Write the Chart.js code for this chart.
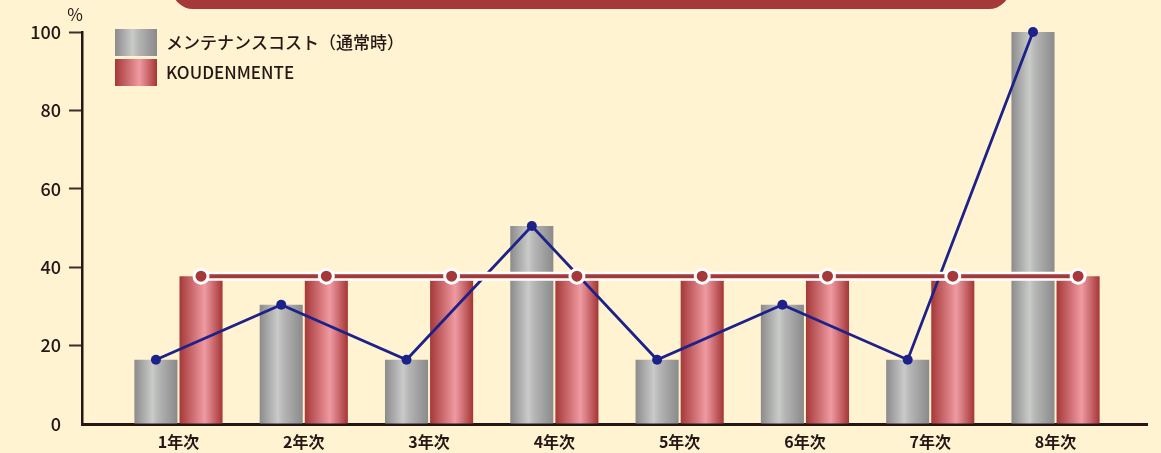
<!DOCTYPE html>
<html>
<head>
<meta charset="utf-8">
<script src="https://cdn.jsdelivr.net/npm/chart.js@4"></script>
<style>
  body { margin: 0; background: #fff3d1; }
  #wrap { width: 1161px; height: 453px; position: relative; }
</style>
</head>
<body>
<div id="wrap"><canvas id="chart"></canvas></div>
<script>
const years = ['1年次', '2年次', '3年次', '4年次', '5年次', '6年次', '7年次', '8年次'];
const normalCost = [16.4, 30.4, 16.4, 50.5, 16.4, 30.4, 16.4, 100];
const koudenBars = [37.7, 36.7, 36.7, 36.7, 36.7, 36.7, 36.7, 37.7];
const koudenLine = [37.7, 37.7, 37.7, 37.7, 37.7, 37.7, 37.7, 37.7];
const yTicks = [0, 20, 40, 60, 80, 100];
const seriesNames = ['メンテナンスコスト（通常時）', 'KOUDENMENTE'];

const CAT_PCT = 0.72;
const BAR_PCT = 0.955;
const grayStops = [[0, '#8b8b8b'], [0.42, '#c9cbc9'], [0.55, '#b5b6b5'], [1, '#8a8a8a']];
const redStops = [[0, '#a63838'], [0.58, '#ef9aa1'], [0.72, '#d77a80'], [1, '#a43535']];
const ink = '#231815';

function barGradient(stops, side) {
    return (c) => {
        const chart = c.chart;
        const x = chart.scales.x;
        if (!chart.chartArea || !x) {
            return stops[0][1];
        }
        const step = x.getPixelForValue(2) - x.getPixelForValue(1);
        const slot = step * CAT_PCT / 2;
        const w = slot * BAR_PCT;
        const cx = x.getPixelForValue(c.dataIndex + 1) + side * slot / 2;
        if (!isFinite(cx) || !isFinite(w)) {
            return stops[0][1];
        }
        const g = chart.ctx.createLinearGradient(cx - w / 2, 0, cx + w / 2, 0);
        stops.forEach(s => g.addColorStop(s[0], s[1]));
        return g;
    };
}

// line points sit on the centre of their bar, not the category centre
const shift = CAT_PCT / 4;
const pts = (vals, side) => vals.map((v, i) => ({ x: i + 1 + side * shift, y: v }));

const decor = {
    id: 'decor',
    beforeDraw(chart) {
        const ctx = chart.ctx;
        ctx.save();
        // banner edge at the top
        ctx.fillStyle = '#a5393a';
        ctx.beginPath();
        ctx.roundRect(172, -40, 838, 49, 21);
        ctx.fill();
        // % unit
        ctx.fillStyle = ink;
        ctx.font = '17px "Noto Sans CJK JP"';
        ctx.textAlign = 'center';
        ctx.textBaseline = 'middle';
        ctx.fillText('%', 75, 15);
        ctx.restore();
    },
    afterDraw(chart) {
        const ctx = chart.ctx;
        ctx.save();
        const boxes = [grayStops, redStops];
        boxes.forEach((stops, i) => {
            const y = 29 + i * 30;
            const g = ctx.createLinearGradient(115, 0, 157, 0);
            stops.forEach(s => g.addColorStop(s[0], s[1]));
            ctx.fillStyle = g;
            ctx.fillRect(115, y, 42, 27);
            ctx.fillStyle = ink;
            ctx.font = '500 17px "Noto Sans CJK JP"';
            ctx.textBaseline = 'middle';
            ctx.fillText(seriesNames[i], 166, y + 14);
        });
        ctx.restore();
    }
};

new Chart(document.getElementById('chart'), {
    data: {
        datasets: [
            {
                type: 'bar',
                label: seriesNames[0],
                data: normalCost.map((v, i) => ({ x: i + 1, y: v })),
                backgroundColor: barGradient(grayStops, -1),
                categoryPercentage: CAT_PCT,
                barPercentage: BAR_PCT,
                order: 4
            },
            {
                type: 'bar',
                label: seriesNames[1],
                data: koudenBars.map((v, i) => ({ x: i + 1, y: v })),
                backgroundColor: barGradient(redStops, 1),
                categoryPercentage: CAT_PCT,
                barPercentage: BAR_PCT,
                order: 5
            },
            {
                type: 'line',
                label: 'normal line',
                data: pts(normalCost, -1),
                borderColor: '#1d218a',
                borderWidth: 2.8,
                pointRadius: 5,
                pointBackgroundColor: '#1d218a',
                pointBorderWidth: 0,
                tension: 0,
                clip: false,
                order: 2
            },
            {
                type: 'line',
                label: 'kouden outline',
                data: pts(koudenLine, 1),
                borderColor: '#ffffff',
                borderWidth: 9,
                pointRadius: 0,
                tension: 0,
                order: 1
            },
            {
                type: 'line',
                label: 'kouden line',
                data: pts(koudenLine, 1),
                borderColor: '#a5393a',
                borderWidth: 4,
                pointRadius: 7,
                pointBackgroundColor: '#a5393a',
                pointBorderColor: '#ffffff',
                pointBorderWidth: 3,
                tension: 0,
                order: 0
            }
        ]
    },
    options: {
        responsive: true,
        maintainAspectRatio: false,
        animation: false,
        layout: { padding: { top: 32, right: 14, left: 0, bottom: 0 } },
        plugins: {
            legend: { display: false },
            tooltip: { enabled: false }
        },
        scales: {
            x: {
                type: 'linear',
                offset: false,
                min: 0.23,
                max: 8.73,
                afterBuildTicks: (axis) => {
                    axis.ticks = years.map((_, i) => ({ value: i + 1 }));
                },
                afterFit: (axis) => { axis.height = 29; },
                grid: { display: false, drawTicks: false },
                border: { color: ink, width: 3 },
                ticks: {
                    autoSkip: false,
                    maxRotation: 0,
                    padding: 8,
                    color: ink,
                    font: { family: '"Noto Sans CJK JP"', size: 16, weight: 600 },
                    callback: (v) => years[v - 1]
                }
            },
            y: {
                min: 0,
                max: 100,
                afterBuildTicks: (axis) => {
                    axis.ticks = yTicks.map(v => ({ value: v }));
                },
                afterFit: (axis) => { axis.width = 82; },
                grid: {
                    drawOnChartArea: false,
                    tickLength: 13,
                    tickWidth: 2,
                    color: (c) => c.tick && c.tick.value === 0 ? 'rgba(0,0,0,0)' : '#3a2f2a'
                },
                border: { color: ink, width: 2.5 },
                ticks: {
                    padding: 8,
                    color: ink,
                    font: { family: '"Noto Sans CJK JP"', size: 18, weight: 500 }
                }
            }
        }
    },
    plugins: [decor]
});
</script>
</body>
</html>
